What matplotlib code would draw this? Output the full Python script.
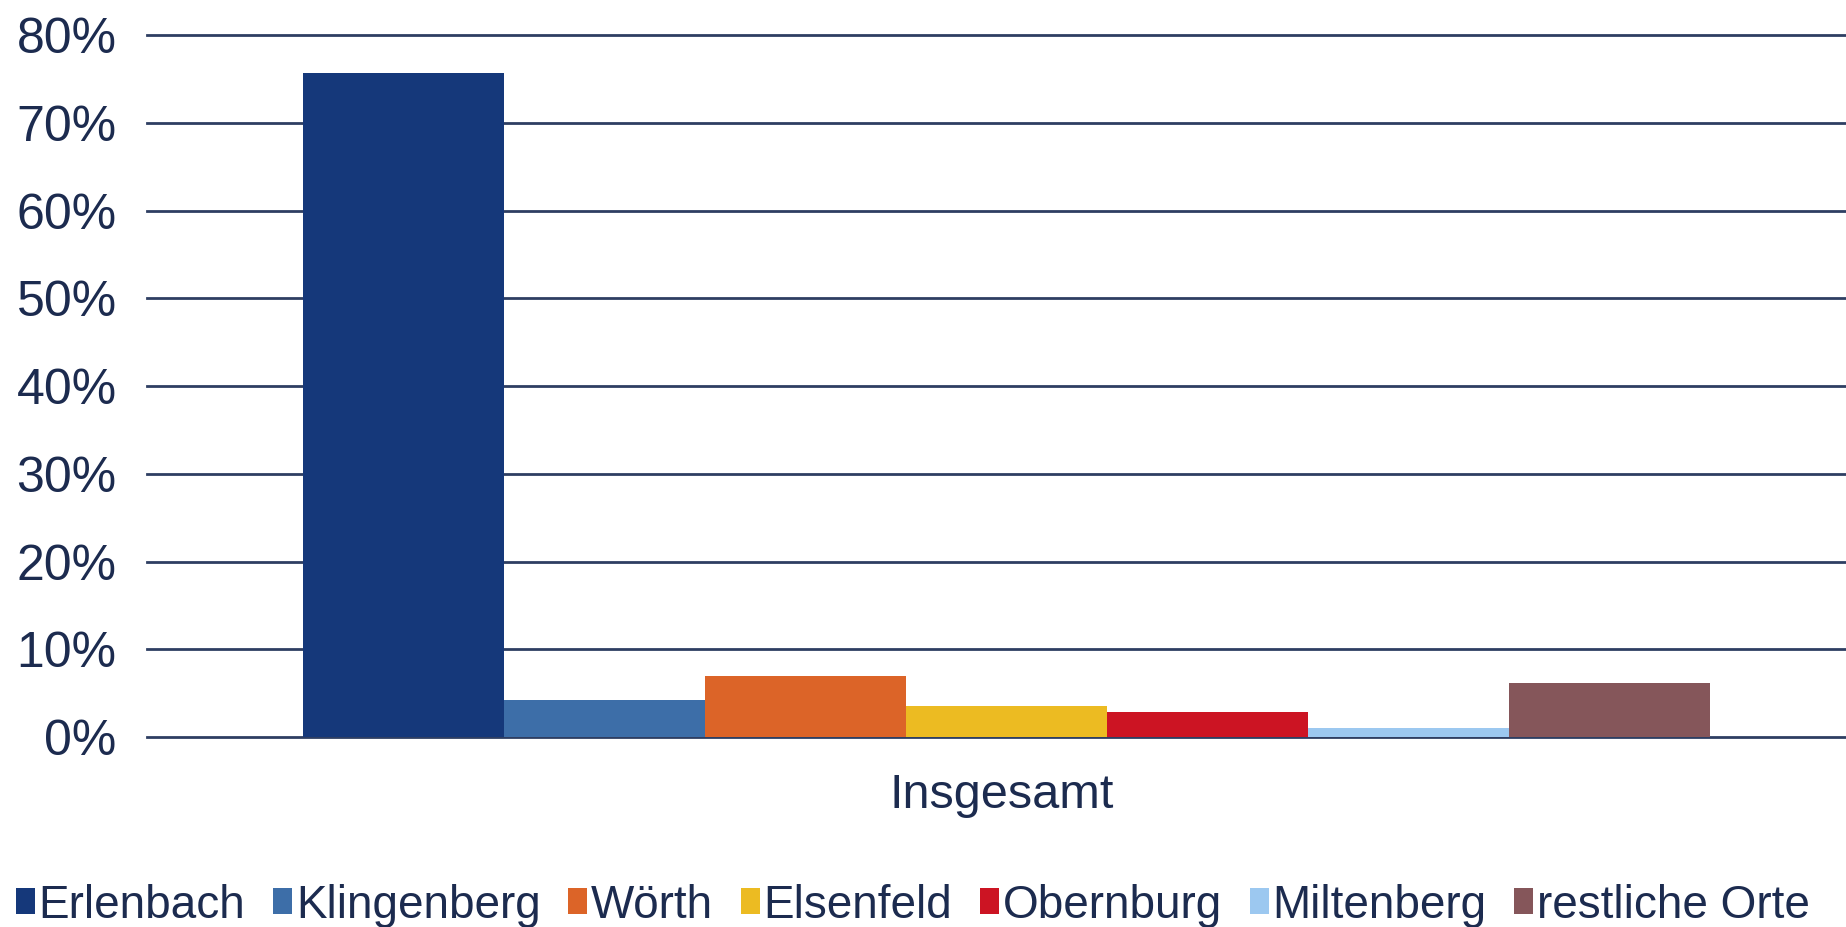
from matplotlib import pyplot as plt
from matplotlib.ticker import PercentFormatter
import numpy as np

plt.rcParams['font.family'] = ['Liberation Sans', 'DejaVu Sans']

orte = ["Erlenbach", "Klingenberg", "Wörth", "Elsenfeld", "Obernburg", "Miltenberg", "restliche Orte"]
anteile = [75.7, 4.2, 7.0, 3.5, 2.9, 1.0, 6.1]
farben = ["#15387a", "#3d6ea8", "#dc6428", "#ecbb22", "#cc1423", "#9cc8f0", "#85565a"]
kategorie = "Insgesamt"
y_ticks = [0, 10, 20, 30, 40, 50, 60, 70, 80]

text_color = "#1c2b4f"
grid_color = "#2e3e62"

fig = plt.figure(figsize=(18.46, 9.27), dpi=100)
ax = fig.add_axes([0.0797, 0.205, 0.931, 0.757])

n = len(orte)
group_w = 0.819
bar_w = group_w / n
x = -group_w / 2 + bar_w / 2 + np.arange(n) * bar_w

for i in range(n):
    ax.bar(x[i], anteile[i], width=bar_w, color=farben[i], label=orte[i], zorder=3)

ax.set_xlim(-0.5, 0.5)
ax.set_ylim(0, 80)
ax.set_yticks(y_ticks)
ax.yaxis.set_major_formatter(PercentFormatter(decimals=0))
ax.set_xticks([-0.003])
ax.set_xticklabels([kategorie])

ax.grid(True, axis='y', color=grid_color, linewidth=2, zorder=0)
for gl in ax.get_ygridlines():
    gl.set_clip_on(False)
for s in ax.spines.values():
    s.set_visible(False)
ax.tick_params(axis='y', length=0, pad=22, labelsize=36, labelcolor=text_color)
ax.tick_params(axis='x', length=0, pad=26, labelsize=35, labelcolor=text_color)

leg = fig.legend(loc='center', bbox_to_anchor=(0.4945, 0.023), ncol=n, frameon=False,
                 fontsize=33, handlelength=0.42, handleheight=0.5, handletextpad=0.08,
                 columnspacing=0.6, borderaxespad=0)
for t in leg.get_texts():
    t.set_color(text_color)

plt.savefig("out.png", dpi=100)
